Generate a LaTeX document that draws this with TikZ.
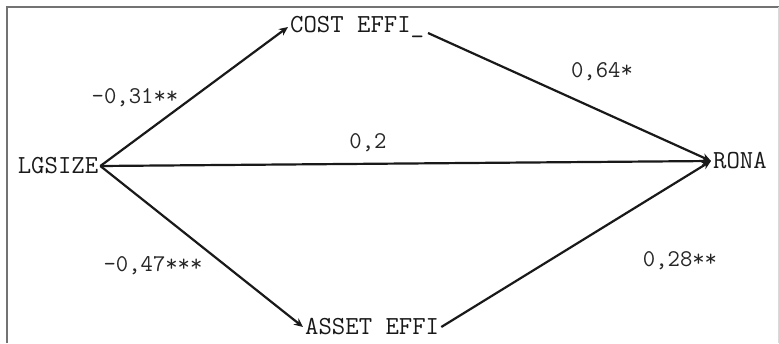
\documentclass[tikz,border=0pt]{standalone}
\usetikzlibrary{arrows.meta}
\begin{document}
\begin{tikzpicture}[x=1pt,y=-1pt,
  var/.style={font=\ttfamily\fontsize{26}{26}\selectfont, inner sep=2pt, text=black!90},
  lab/.style={font=\ttfamily\fontsize{24}{24}\selectfont, inner sep=0pt, text=black!85},
  path/.style={line width=2.2pt, black!90, -{Stealth[length=9pt,width=8pt]}}]
\useasboundingbox (0,0) rectangle (779,343);
\draw[black!55, line width=1.5pt] (7,343) -- (7,7) -- (779,7);
\draw[black!15, line width=0.8pt] (778,7) -- (778,342.5);
\node[var] (lg) at (58,166) {LGSIZE};
\node[var, anchor=west] (cost) at (288,27) {COST EFFI\_};
\node[var, anchor=west] (rona) at (711,161) {RONA};
\node[var, anchor=west] (asset) at (303,327) {ASSET EFFI};
\coordinate (cend) at (428,33);
\draw[path] (lg.east) -- (cost.west);
\draw[path] (lg.east) -- (rona.west);
\draw[path] (lg.east) -- (asset.west);
\draw[path] (cend) -- (rona.west);
\draw[path] (asset.east) -- (rona.west);
\node[lab] (l1) at (135,98) {-0,31**};
\node[lab] (l2) at (368,143) {0,2};
\node[lab] (l3) at (602,72) {0,64*};
\node[lab] (l4) at (153,266) {-0,47***};
\node[lab] (l5) at (680,261) {0,28**};
\end{tikzpicture}
\end{document}
